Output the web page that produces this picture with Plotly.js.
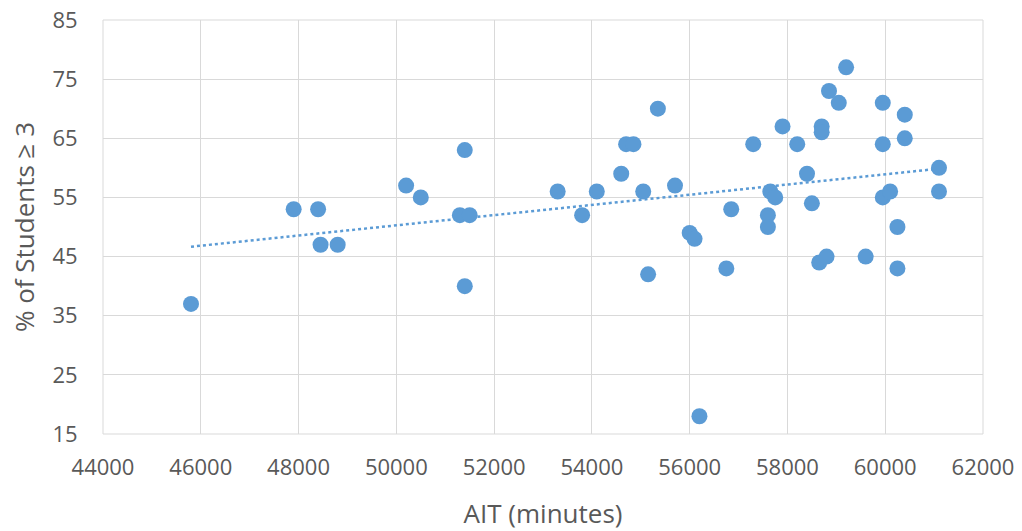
<!DOCTYPE html>
<html>
<head>
<meta charset="utf-8">
<script src="https://cdn.plot.ly/plotly-3.0.1.min.js"></script>
<style>html,body{margin:0;padding:0;background:#fff;}#chart{width:1022px;height:531px;}</style>
</head>
<body>
<div id="chart"></div>
<script>
// AIT (minutes) for each school
const aitMinutes = [
  45800, 47900, 48400, 48450, 48800, 50200, 50500, 51400, 51300, 51500, 51400,
  53300, 53800, 54100, 54600, 54700, 54850, 55350, 55050, 55700, 55150,
  56000, 56100, 56200, 56850, 56750, 57300, 57900, 58200, 57650, 57750,
  57600, 57600, 58400, 58500, 58700, 58700, 58850, 59050, 59200, 58650,
  58800, 59600, 59950, 59950, 59950, 60100, 60250, 60250, 60400, 60400,
  61100, 61100
];
// % of Students >= 3
const pctStudents = [
  37, 53, 53, 47, 47, 57, 55, 63, 52, 52, 40,
  56, 52, 56, 59, 64, 64, 70, 56, 57, 42,
  49, 48, 18, 53, 43, 64, 67, 64, 56, 55,
  52, 50, 59, 54, 67, 66, 73, 71, 77, 44,
  45, 45, 71, 64, 55, 56, 50, 43, 69, 65,
  60, 56
];
const xTickVals = [44000, 46000, 48000, 50000, 52000, 54000, 56000, 58000, 60000, 62000];
const yTickVals = [15, 25, 35, 45, 55, 65, 75, 85];

// linear trendline (least squares) from the data
const n = aitMinutes.length;
let sx = 0, sy = 0, sxx = 0, sxy = 0;
for (let i = 0; i < n; i++) {
  sx += aitMinutes[i]; sy += pctStudents[i];
  sxx += aitMinutes[i] * aitMinutes[i]; sxy += aitMinutes[i] * pctStudents[i];
}
const slope = (n * sxy - sx * sy) / (n * sxx - sx * sx);
const intercept = (sy - slope * sx) / n;
const xMin = Math.min(...aitMinutes), xMax = Math.max(...aitMinutes);
const trendX = [xMin, xMax];
const trendY = trendX.map(v => intercept + slope * v);

const blue = '#5B9BD5';
const grey = '#595959';
const font = 'Open Sans, Segoe UI, Calibri, sans-serif';

const data = [
  {
    x: trendX, y: trendY, type: 'scatter', mode: 'lines',
    line: {color: blue, width: 2.5, dash: 'dot'},
    hoverinfo: 'skip', showlegend: false
  },
  {
    x: aitMinutes, y: pctStudents, type: 'scatter', mode: 'markers',
    marker: {color: blue, size: 16, line: {width: 0}},
    showlegend: false
  }
];

const layout = {
  width: 1022, height: 531,
  margin: {l: 103, r: 39, t: 20, b: 97},
  paper_bgcolor: '#fff', plot_bgcolor: '#fff',
  font: {family: font, color: grey},
  xaxis: {
    range: [44000, 62000], tickvals: xTickVals, tickformat: 'd',
    showgrid: true, gridcolor: '#d9d9d9', gridwidth: 1,
    zeroline: false, showline: false,
    tickfont: {size: 22, color: grey, family: font},
    ticks: 'outside', ticklen: 14, tickcolor: 'rgba(0,0,0,0)',
    title: {text: 'AIT (minutes)', font: {size: 26, color: grey, family: font}, standoff: 24}
  },
  yaxis: {
    range: [15, 85], tickvals: yTickVals,
    showgrid: true, gridcolor: '#d9d9d9', gridwidth: 1,
    zeroline: false, showline: false,
    tickfont: {size: 22, color: grey, family: font},
    ticks: 'outside', ticklen: 20, tickcolor: 'rgba(0,0,0,0)',
    title: {text: '% of Students ≥ 3', font: {size: 26, color: grey, family: font}, standoff: 10}
  },
  shapes: [
    {type: 'rect', xref: 'paper', yref: 'paper', x0: 0, x1: 1, y0: 0, y1: 1,
     line: {color: '#d9d9d9', width: 1}, layer: 'below'}
  ]
};

Plotly.newPlot('chart', data, layout, {displayModeBar: false, staticPlot: true});
</script>
</body>
</html>
